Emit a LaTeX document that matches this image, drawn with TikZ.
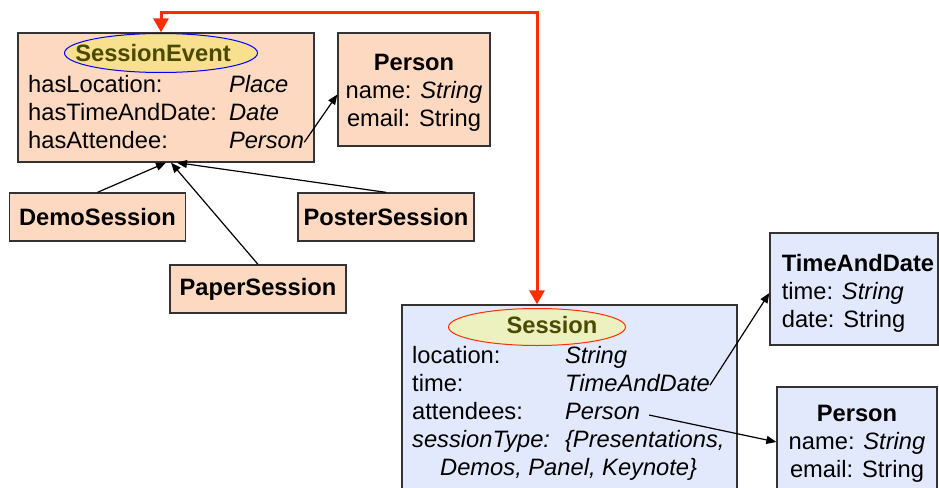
\documentclass[tikz,border=0pt]{standalone}
\usepackage{fontspec}
\setmainfont{Liberation Sans}
\usepackage{tikz}
\usetikzlibrary{matrix,arrows.meta,calc,positioning,shapes.geometric}
\usepackage{xcolor}
\newcommand{\myfont}{\fontsize{23.7}{28}\selectfont}
\newcommand{\topstrut}[1]{\rule{0pt}{#1}}
\definecolor{peach}{HTML}{FDD9C1}
\definecolor{paleblue}{HTML}{E3E9FC}
\definecolor{gold}{HTML}{F8E08E}
\definecolor{palelime}{HTML}{ECF1BF}
\definecolor{ovaltxt}{HTML}{4B4B00}
\definecolor{linkred}{HTML}{FF2D00}
\definecolor{edgegray}{HTML}{333333}
\tikzset{
    clssty/.style={draw=edgegray,line width=1.3pt,rectangle,inner sep=0pt,font=\myfont},
    pchsty/.style={clssty,fill=peach},
    blusty/.style={clssty,fill=paleblue},
    substy/.style={pchsty,minimum width=176pt,minimum height=48pt,font=\myfont\bfseries},
    ovalsty/.style={ellipse,line width=1pt,inner sep=0pt},
    ovtxtsty/.style={font=\myfont\bfseries,text=ovaltxt,inner sep=0pt},
    attrsty/.style={anchor=base west,inner sep=0pt,text height=18pt,text depth=6pt,font=\myfont},
    isasty/.style={-{Triangle[length=10pt,width=8pt]},line width=1.2pt},
    refsty/.style={{Triangle[length=14pt,width=15pt]}-{Triangle[length=14pt,width=15pt]},draw=linkred,line width=3pt},
}

\begin{document}
\begin{tikzpicture}[x=1pt,y=-1pt]
  \useasboundingbox (0,0) rectangle (939,487);

  \node[pchsty, minimum width=296pt, minimum height=129pt] (SEbox) at (166,97.5) {};
  \node[ovalsty, draw=blue, fill=gold, minimum width=193pt, minimum height=39pt] (SEoval) at (161,53) {};
  \node[ovtxtsty] (SEname) at ([xshift=-8pt]SEoval.center) {SessionEvent};
  \matrix (SEattr) [matrix of nodes,
              nodes = {attrsty},
              inner sep = 0pt,
              column sep = 12pt,
              row sep = 4pt,
              anchor = north west] at (28,74)
  {
  hasLocation: & \textit{Place} \\
  hasTimeAndDate: & \textit{Date} \\
  hasAttendee: & \textit{Person} \\
  };

  \node[pchsty, align=center, minimum width=152pt, minimum height=113pt] (Per) at (414,89.5)
    {\topstrut{23pt}\textbf{Person}\\ name: \textit{String}\\ email: String};

  \node[substy] (Demo) at (97.5,217) {DemoSession};
  \node[substy] (Poster) at (386,217) {PosterSession};
  \node[substy] (Paper) at (258,289) {PaperSession};

  \draw[isasty] (Demo.north) -- (SEbox.south);
  \draw[isasty] (Paper.north) -- ([xshift=5pt]SEbox.south);
  \draw[isasty] (Poster.north) -- ([xshift=11pt]SEbox.south);
  \draw[isasty] (SEattr-3-2.east) -- ([yshift=-5pt]Per.west);

  \node[blusty, minimum width=335pt, minimum height=210pt] (Sbox) at (569.5,410) {};
  \node[ovalsty, draw=linkred, fill=palelime, minimum width=177pt, minimum height=37pt] (Soval) at (537,327) {};
  \node[ovtxtsty] (Sname) at ([xshift=15pt,yshift=2pt]Soval.center) {Session};
  \matrix (Sattr) [matrix of nodes,
              nodes = {attrsty},
              inner sep = 0pt,
              column sep = 15pt,
              row sep = 4pt,
              anchor = north west] at (412,345)
  {
  location: & \textit{String} \\
  time: & \textit{TimeAndDate} \\
  attendees: & \textit{Person} \\
  \textit{sessionType:} & \textit{\{Presentations,} \\
  };
  \node[attrsty] (Stype) at (440,475) {\textit{Demos, Panel, Keynote\}}};

  \node[blusty, align=left, minimum width=168pt, minimum height=112pt] (TAD) at (854,289)
    {\topstrut{25pt}\hspace{8pt}\textbf{TimeAndDate}\\ \hspace{8pt}time: \textit{String}\\ \hspace{8pt}date: String};
  \node[blusty, align=center, minimum width=160pt, minimum height=110pt] (Per2) at (857,442)
    {\topstrut{20pt}\textbf{Person}\\ name: \textit{String}\\ email: String};

  \draw[isasty] (Sattr-2-2.east) -- ([yshift=-4pt]TAD.west);
  \draw[isasty, shorten <=9pt] (Sattr-3-2.east) -- (Per2.west);

  \coordinate (reftop) at (0,13);
  \coordinate (SEin) at (SEbox.north -| SEoval.north);
  \coordinate (Sin) at (Sbox.north -| Soval.north);
  \draw[refsty] (SEin) |- (reftop -| Sin) -- (Sin);
\end{tikzpicture}
\end{document}
